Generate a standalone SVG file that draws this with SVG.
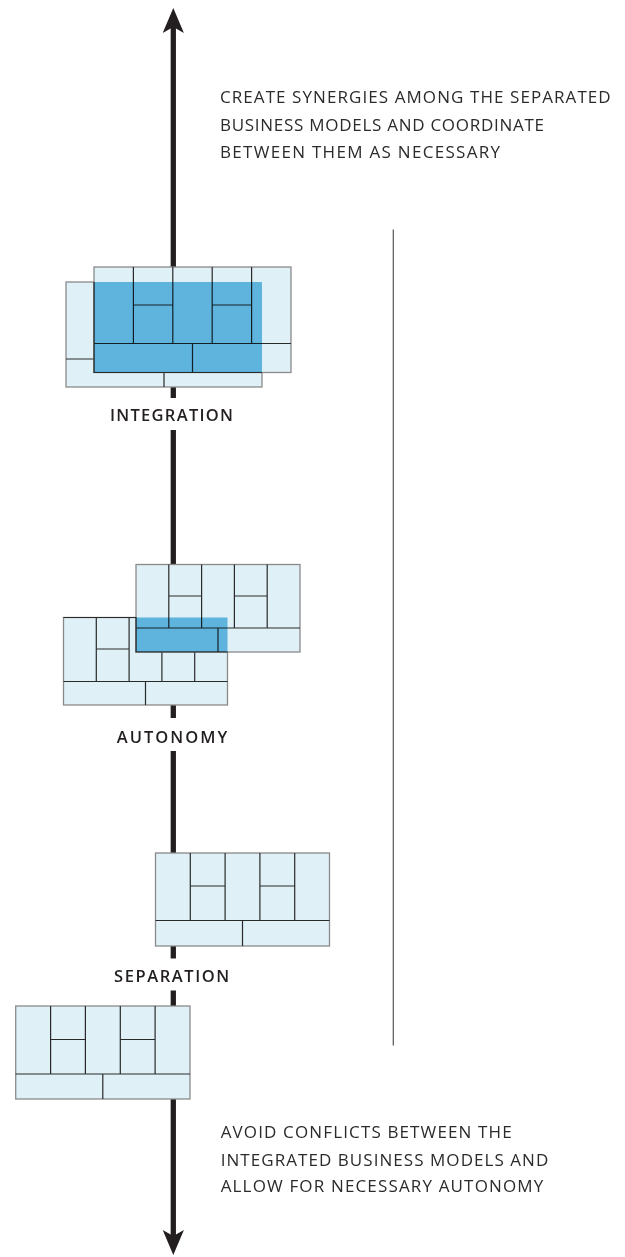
<svg xmlns="http://www.w3.org/2000/svg" width="625" height="1257" viewBox="0 0 625 1257">
<style>
.cell{fill:#dff0f7;stroke:#8a8a8a;stroke-width:1.3}
.in{stroke:#2a2a2a;stroke-width:1.2;fill:none}
.blue{fill:#6dbfe5;mix-blend-mode:multiply}
.note{font-family:"Open Sans","Liberation Sans",sans-serif;font-size:17px;fill:#2b2b2b}
.lbl{font-family:"Open Sans","Liberation Sans",sans-serif;font-size:16.5px;font-weight:600;fill:#231f20}
.gap{fill:#ffffff}
</style>
<defs>
<marker id="head" markerUnits="userSpaceOnUse" markerWidth="30" markerHeight="30" refX="0" refY="0" orient="auto-start-reverse" overflow="visible">
<path d="M19,0 L-6,-10.6 L0,0 L-6,10.6 Z" fill="#231f20"/>
</marker>
</defs>
<rect width="625" height="1257" fill="#ffffff"/>
<g id="connectors">
<line id="axis" x1="173.3" y1="27" x2="173.3" y2="1236" stroke="#231f20" stroke-width="5.3" marker-start="url(#head)" marker-end="url(#head)"/>
<line id="divider" x1="393.3" y1="229.5" x2="393.3" y2="1045.5" stroke="#555" stroke-width="1.2"/>
</g>
<g id="integration">
<g id="integration-back">
<rect class="cell" x="66" y="282" width="196" height="105"/>
<path class="in" d="M105.2,282V359M144.4,282V359M183.6,282V359M222.8,282V359M66,359H262M105.2,320.5H144.4M183.6,320.5H222.8M164,359V387"/>
</g>
<g id="integration-front">
<rect class="cell" x="94" y="267" width="197" height="105.5"/>
<path class="in" d="M133.4,267V343.5M172.8,267V343.5M212.2,267V343.5M251.6,267V343.5M94,343.5H291M133.4,305H172.8M212.2,305H251.6M192.5,343.5V372.5"/>
</g>
<rect class="blue" x="94" y="282" width="168" height="90.5"/>
<path class="in" d="M94,282V372.5H262"/>
<rect class="gap" x="163" y="398" width="21" height="32"/>
<text class="lbl" x="110" y="420.7" textLength="123" lengthAdjust="spacing">INTEGRATION</text>
</g>
<g id="autonomy">
<g id="autonomy-back">
<rect class="cell" x="63.5" y="617.5" width="164" height="87.5"/>
<path class="in" d="M96.3,617.5V681.5M129.1,617.5V681.5M161.9,617.5V681.5M194.7,617.5V681.5M63.5,681.5H227.5M96.3,649H129.1M161.9,649H194.7M145.5,681.5V705"/>
</g>
<g id="autonomy-front">
<rect class="cell" x="136" y="564.5" width="164" height="87.5"/>
<path class="in" d="M168.8,564.5V628M201.6,564.5V628M234.4,564.5V628M267.2,564.5V628M136,628H300M168.8,596H201.6M234.4,596H267.2M218,628V652"/>
</g>
<rect class="blue" x="136" y="617.5" width="91.5" height="34.5"/>
<path class="in" d="M63.5,617.5H136V652H227.5"/>
<rect class="gap" x="163" y="718" width="21" height="33"/>
<text class="lbl" x="116.7" y="743" textLength="110.6" lengthAdjust="spacing">AUTONOMY</text>
</g>
<g id="separation">
<g id="separation-upper">
<rect class="cell" x="155.5" y="853" width="174" height="93"/>
<path class="in" d="M190.3,853V920.5M225.1,853V920.5M259.9,853V920.5M294.7,853V920.5M155.5,920.5H329.5M190.3,886H225.1M259.9,886H294.7M242.5,920.5V946"/>
</g>
<rect class="gap" x="163" y="958.5" width="21" height="32"/>
<text class="lbl" x="114" y="981.7" textLength="115.3" lengthAdjust="spacing">SEPARATION</text>
<g id="separation-lower">
<rect class="cell" x="15.7" y="1006" width="174.3" height="93"/>
<path class="in" d="M50.6,1006V1074M85.4,1006V1074M120.3,1006V1074M155.1,1006V1074M15.7,1074H190M50.6,1039.5H85.4M120.3,1039.5H155.1M102.8,1074V1099"/>
</g>
</g>
<g id="note-top">
<text class="note" x="220" y="102.7" textLength="390.7" lengthAdjust="spacing">CREATE SYNERGIES AMONG THE SEPARATED</text>
<text class="note" x="220" y="130.5" textLength="324" lengthAdjust="spacing">BUSINESS MODELS AND COORDINATE</text>
<text class="note" x="220" y="158" textLength="280" lengthAdjust="spacing">BETWEEN THEM AS NECESSARY</text>
</g>
<g id="note-bottom">
<text class="note" x="220.7" y="1138.3" textLength="291" lengthAdjust="spacing">AVOID CONFLICTS BETWEEN THE</text>
<text class="note" x="220.7" y="1165.5" textLength="327.6" lengthAdjust="spacing">INTEGRATED BUSINESS MODELS AND</text>
<text class="note" x="220.7" y="1191.7" textLength="322.6" lengthAdjust="spacing">ALLOW FOR NECESSARY AUTONOMY</text>
</g>
</svg>
